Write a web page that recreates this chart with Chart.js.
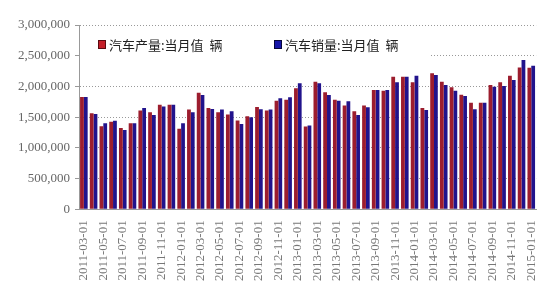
<!DOCTYPE html>
<html>
<head>
<meta charset="utf-8">
<script src="https://cdn.jsdelivr.net/npm/chart.js@4"></script>
<style>
  html, body { margin: 0; padding: 0; background: #fff; }
  #wrap { width: 550px; height: 300px; }
</style>
</head>
<body>
<div id="wrap"><canvas id="chart"></canvas></div>
<script>
// months 2011-03 .. 2015-01
const months = [
  "2011-03-01","2011-04-01","2011-05-01","2011-06-01","2011-07-01","2011-08-01",
  "2011-09-01","2011-10-01","2011-11-01","2011-12-01","2012-01-01","2012-02-01",
  "2012-03-01","2012-04-01","2012-05-01","2012-06-01","2012-07-01","2012-08-01",
  "2012-09-01","2012-10-01","2012-11-01","2012-12-01","2013-01-01","2013-02-01",
  "2013-03-01","2013-04-01","2013-05-01","2013-06-01","2013-07-01","2013-08-01",
  "2013-09-01","2013-10-01","2013-11-01","2013-12-01","2014-01-01","2014-02-01",
  "2014-03-01","2014-04-01","2014-05-01","2014-06-01","2014-07-01","2014-08-01",
  "2014-09-01","2014-10-01","2014-11-01","2014-12-01","2015-01-01"
];

// 汽车产量:当月值 (辆)
const production = [
  1830000,1563000,1352000,1425000,1322000,1400000,1607000,1579000,1704000,1704000,1310000,1623000,
  1899000,1650000,1579000,1542000,1444000,1515000,1667000,1607000,1769000,1785000,1969000,1347000,
  2078000,1904000,1785000,1688000,1596000,1688000,1942000,1931000,2159000,2159000,2067000,1650000,
  2216000,2077000,1985000,1866000,1736000,1736000,2024000,2067000,2175000,2310000,2305000
];

// 汽车销量:当月值 (辆)
const sales = [
  1830000,1553000,1401000,1440000,1290000,1400000,1650000,1536000,1672000,1704000,1401000,1579000,
  1861000,1634000,1623000,1596000,1390000,1498000,1628000,1623000,1807000,1823000,2050000,1363000,
  2050000,1861000,1769000,1758000,1536000,1661000,1942000,1942000,2067000,2159000,2175000,1618000,
  2186000,2024000,1931000,1845000,1628000,1736000,1996000,2008000,2105000,2430000,2337000
];

const seriesNames = ["汽车产量:当月值  辆", "汽车销量:当月值  辆"];
const yTicks = [0, 500000, 1000000, 1500000, 2000000, 2500000, 3000000];

const redBar = "#9c1d2e";
const blueBar = "#21138c";
const serif = "'Liberation Serif', 'DejaVu Serif', serif";
const cjk = "'Noto Sans CJK SC', sans-serif";

// legend box drawn inside plot, covering the grid lines behind it
const legendBox = {
  id: "legendBox",
  beforeDatasetsDraw(chart) {
    const ctx = chart.ctx;
    const a = chart.chartArea;
    ctx.save();
    ctx.fillStyle = "#fff";
    ctx.fillRect(a.left + 1, 28, 350, 34);
    ctx.font = "13px " + cjk;
    ctx.textBaseline = "middle";
    const items = [
      { x: 98, fill: "#c41e28", edge: "#5a0a10", text: seriesNames[0] },
      { x: 274, fill: "#1515a8", edge: "#05053a", text: seriesNames[1] }
    ];
    items.forEach(it => {
      ctx.fillStyle = it.fill;
      ctx.fillRect(it.x, 40, 8, 9);
      ctx.strokeStyle = it.edge;
      ctx.lineWidth = 1;
      ctx.strokeRect(it.x + 0.5, 40.5, 7, 8);
      ctx.fillStyle = "#222";
      ctx.fillText(it.text, it.x + 11, 45);
    });
    ctx.restore();
  }
};

new Chart(document.getElementById("chart"), {
  type: "bar",
  data: {
    labels: months,
    datasets: [
      { label: seriesNames[0], data: production, backgroundColor: redBar,
        categoryPercentage: 0.78, barPercentage: 1.0 },
      { label: seriesNames[1], data: sales, backgroundColor: blueBar,
        categoryPercentage: 0.78, barPercentage: 1.0 }
    ]
  },
  options: {
    responsive: true,
    maintainAspectRatio: false,
    animation: false,
    layout: { padding: { top: 25, right: 13, bottom: 16, left: 0 } },
    plugins: {
      legend: { display: false },
      tooltip: { enabled: false }
    },
    scales: {
      x: {
        grid: { display: false },
        border: { color: "#999" },
        ticks: {
          autoSkip: false,
          minRotation: 90,
          maxRotation: 90,
          color: "#777",
          font: { family: serif, size: 13 },
          callback: (v, i) => (i % 2 === 0 ? months[i] : "")
        }
      },
      y: {
        min: 0,
        max: 3000000,
        afterBuildTicks: s => { s.ticks = yTicks.map(v => ({ value: v })); },
        afterFit: s => { s.width = 79; },
        border: { color: "#999", dash: [1, 2] },
        grid: {
          color: "#999",
          tickColor: "#999",
          tickLength: 4,
          tickBorderDash: [],
          drawTicks: true
        },
        ticks: {
          padding: 5,
          color: "#666",
          font: { family: serif, size: 13 },
          callback: v => v.toLocaleString("en-US")
        }
      }
    }
  },
  plugins: [legendBox]
});
</script>
</body>
</html>
